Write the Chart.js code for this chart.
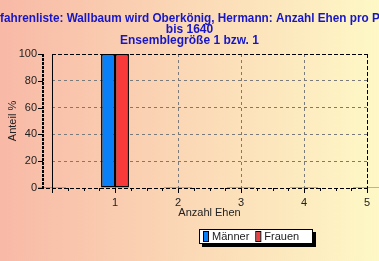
<!DOCTYPE html>
<html><head><meta charset="utf-8">
<script src="https://cdn.jsdelivr.net/npm/chart.js@4.4.1/dist/chart.umd.min.js"></script>
<style>html,body{margin:0;padding:0;overflow:hidden;background:#fbd8b6}#wrap{width:379px;height:261px;position:relative}canvas{display:block}</style>
</head><body><div id="wrap"><canvas id="c" width="379" height="261"></canvas></div>
<script>
const titleLines = ['Vorfahrenliste: Wallbaum wird Oberkönig, Hermann: Anzahl Ehen pro Person', 'bis 1640', 'Ensemblegröße 1 bzw. 1'];
const categories = ['0', '1', '2', '3', '4', '5'];
const seriesLabels = ['Männer', 'Frauen'];
const maenner = [0, 100, 0, 0, 0, 0];
const frauen = [0, 100, 0, 0, 0, 0];
const yTickValues = [0, 20, 40, 60, 80, 100];
const yAxisTitle = 'Anteil %';
const xAxisTitle = 'Anzahl Ehen';

const seriesColors = ['#0a80f8', '#f83a3a'];
const FONT = 'Liberation Sans';
const TITLE_COLOR = '#1616c8';

const deco = {
  id: 'deco',
  beforeDraw(chart) {
    const ctx = chart.ctx;
    const g = ctx.createLinearGradient(0, 0, chart.width, 0);
    g.addColorStop(0, '#f8b9a6');
    g.addColorStop(1, '#fef8c6');
    ctx.save();
    ctx.fillStyle = g;
    ctx.fillRect(0, 0, chart.width, chart.height);
    ctx.restore();
  },
  afterDatasetsDraw(chart) {
    const ctx = chart.ctx;
    const {left, right, top, bottom} = chart.chartArea;
    const xs = chart.scales.x, ys = chart.scales.y;
    ctx.save();
    ctx.strokeStyle = '#000';
    ctx.lineWidth = 1;
    ctx.setLineDash([4, 2]);
    ctx.beginPath();
    ctx.moveTo(left, top + 0.5); ctx.lineTo(right, top + 0.5);
    ctx.moveTo(right + 0.5, top); ctx.lineTo(right + 0.5, bottom);
    ctx.moveTo(left - 12, bottom + 0.5); ctx.lineTo(right + 1, bottom + 0.5);
    ctx.stroke();
    ctx.setLineDash([]);
    ctx.beginPath();
    ctx.moveTo(left + 0.5, top); ctx.lineTo(left + 0.5, bottom);
    ctx.stroke();
    ctx.lineWidth = 2;
    ctx.setLineDash([3, 1]);
    ctx.beginPath();
    ctx.moveTo(left - 9, top); ctx.lineTo(left - 9, bottom + 1);
    ctx.stroke();
    ctx.setLineDash([]);
    ctx.lineWidth = 1;
    ctx.beginPath();
    yTickValues.forEach(v => {
      const y = Math.round(ys.getPixelForValue(v)) + 0.5;
      ctx.moveTo(left - 14, y); ctx.lineTo(left - 9, y);
    });
    for (let i = 0; i < categories.length; i++) {
      const x = Math.round(xs.getPixelForValue(i)) + 0.5;
      ctx.moveTo(x, bottom); ctx.lineTo(x, bottom + 5);
      if (i < categories.length - 1) {
        const step = (xs.getPixelForValue(i + 1) - xs.getPixelForValue(i)) / 4;
        for (let k = 1; k < 4; k++) {
          const mx = Math.round(xs.getPixelForValue(i) + k * step) + 0.5;
          ctx.moveTo(mx, bottom); ctx.lineTo(mx, bottom + 3);
        }
      }
    }
    ctx.stroke();
    ctx.restore();
  },
  afterDraw(chart) {
    const ctx = chart.ctx;
    ctx.save();
    // title (first line is wider than the canvas and is cut at both edges)
    ctx.fillStyle = TITLE_COLOR;
    ctx.textBaseline = 'middle';
    ctx.font = 'bold 12px "' + FONT + '"';
    const l1 = titleLines[0];
    const iStart = l1.indexOf('fahren');
    const iEnd = l1.lastIndexOf('P');
    const wPre = ctx.measureText(l1.slice(0, iStart)).width;
    const wSpan = ctx.measureText(l1.slice(iStart, iEnd)).width;
    const sx = 372 / wSpan;
    ctx.save();
    ctx.translate(0, 18.5);
    ctx.scale(sx, 1);
    ctx.textAlign = 'left';
    ctx.fillText(l1, -wPre, 0);
    ctx.restore();
    ctx.textAlign = 'center';
    ctx.fillText(titleLines[1], chart.width / 2, 29.5);
    ctx.fillText(titleLines[2], chart.width / 2, 40.5);

    // legend
    const bx = 199, by = 229, bw = 114, bh = 15;
    ctx.textAlign = 'left';
    ctx.fillStyle = '#000';
    ctx.fillRect(bx + 3, by + 3, bw, bh);
    ctx.fillStyle = '#fff';
    ctx.fillRect(bx, by, bw, bh);
    ctx.strokeStyle = '#000';
    ctx.lineWidth = 1;
    ctx.strokeRect(bx + 0.5, by + 0.5, bw - 1, bh - 1);
    ctx.font = '11px "' + FONT + '"';
    let x = 204;
    const cy = by + bh / 2;
    chart.data.datasets.forEach(ds => {
      ctx.fillStyle = ds.backgroundColor;
      ctx.fillRect(x, by + 3, 4, 10);
      ctx.strokeRect(x - 0.5, by + 2.5, 5, 10);
      x += 8;
      ctx.fillStyle = '#222';
      ctx.fillText(ds.label, x, cy + 0.5);
      x += ctx.measureText(ds.label).width + 7;
    });
    ctx.restore();
  }
};

const axisFont = {family: FONT, size: 11};
new Chart(document.getElementById('c'), {
  type: 'bar',
  data: {
    labels: categories,
    datasets: [
      {label: seriesLabels[0], data: maenner, backgroundColor: seriesColors[0]},
      {label: seriesLabels[1], data: frauen, backgroundColor: seriesColors[1]}
    ]
  },
  options: {
    responsive: false,
    animation: false,
    devicePixelRatio: 1,
    layout: {padding: {left: 0, right: 0, top: 54, bottom: 41}},
    datasets: {
      bar: {
        categoryPercentage: 0.443,
        barPercentage: 1,
        minBarLength: 1,
        clip: false,
        borderColor: '#000',
        borderSkipped: false,
        borderWidth: c => (c.raw === 0 ? 0 : 1.5)
      }
    },
    plugins: {
      legend: {display: false},
      tooltip: {enabled: false},
      title: {display: false}
    },
    scales: {
      x: {
        type: 'category',
        offset: false,
        grid: {color: '#7a7a7a', lineWidth: 1, drawTicks: false, offset: false},
        border: {display: false, dash: [3, 3]},
        ticks: {
          padding: 8, color: '#222', font: axisFont, maxRotation: 0, autoSkip: false,
          callback: (v, i) => (i === 0 ? '' : categories[i])
        },
        title: {display: true, text: xAxisTitle, color: '#222', font: axisFont, padding: {top: 0, bottom: 0}},
        afterFit: s => { s.height = 32; s.paddingRight = 12; }
      },
      y: {
        min: 0, max: 100,
        afterBuildTicks: s => { s.ticks = yTickValues.map(v => ({value: v})); },
        grid: {color: '#7a7a7a', lineWidth: 1, drawTicks: false},
        border: {display: false, dash: [3, 3]},
        ticks: {padding: 15, color: '#222', font: axisFont},
        title: {display: true, text: yAxisTitle, color: '#222', font: axisFont, padding: {top: 6, bottom: 0}},
        afterFit: s => { s.width = 52; }
      }
    }
  },
  plugins: [deco]
});
</script>
</body></html>
